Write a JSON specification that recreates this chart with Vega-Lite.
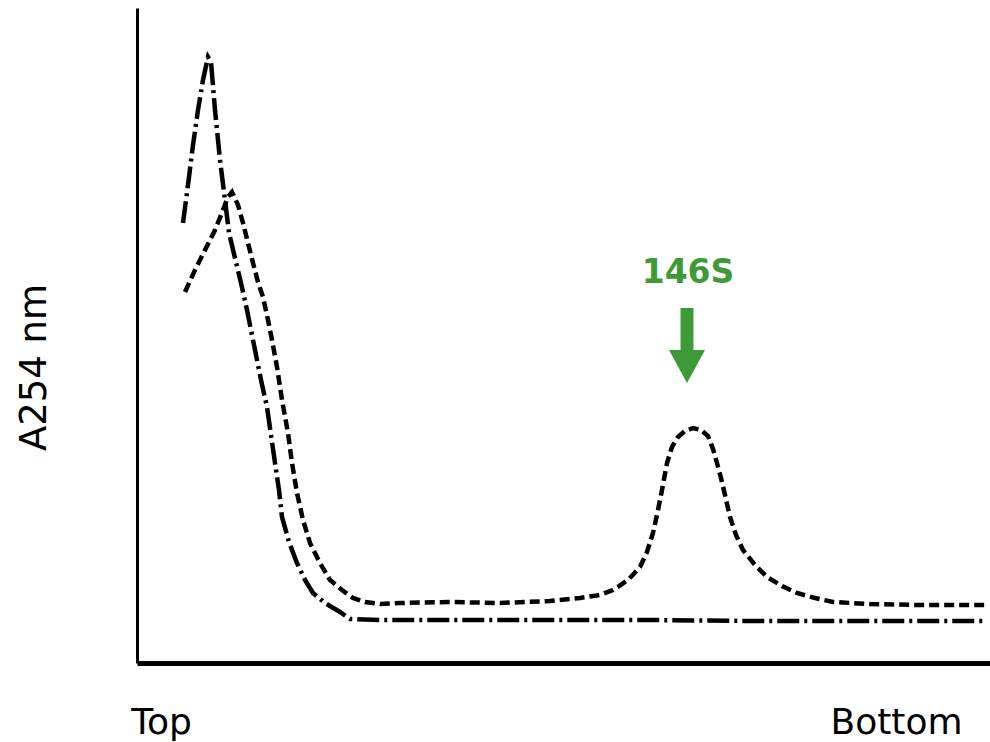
{
  "$schema": "https://vega.github.io/schema/vega-lite/v6.json",
  "width": 853,
  "height": 655,
  "autosize": {"type": "none"},
  "padding": {"left": 137, "top": 8, "right": 0, "bottom": 79},
  "background": "white",
  "config": {"view": {"stroke": null}},
  "datasets": {
    "curves": [
      {"series": "dashdot", "pos": 46, "a": 440},
      {"series": "dashdot", "pos": 51, "a": 478},
      {"series": "dashdot", "pos": 56, "a": 518},
      {"series": "dashdot", "pos": 61, "a": 553},
      {"series": "dashdot", "pos": 66, "a": 583},
      {"series": "dashdot", "pos": 71, "a": 606},
      {"series": "dashdot", "pos": 74, "a": 601},
      {"series": "dashdot", "pos": 78, "a": 553},
      {"series": "dashdot", "pos": 83, "a": 503},
      {"series": "dashdot", "pos": 88, "a": 463},
      {"series": "dashdot", "pos": 92, "a": 430},
      {"series": "dashdot", "pos": 98, "a": 405},
      {"series": "dashdot", "pos": 104, "a": 380},
      {"series": "dashdot", "pos": 110, "a": 353},
      {"series": "dashdot", "pos": 118, "a": 313},
      {"series": "dashdot", "pos": 124, "a": 283},
      {"series": "dashdot", "pos": 130, "a": 256},
      {"series": "dashdot", "pos": 134, "a": 228},
      {"series": "dashdot", "pos": 138, "a": 200},
      {"series": "dashdot", "pos": 142, "a": 173},
      {"series": "dashdot", "pos": 145, "a": 146},
      {"series": "dashdot", "pos": 152, "a": 121},
      {"series": "dashdot", "pos": 160, "a": 100},
      {"series": "dashdot", "pos": 168, "a": 83},
      {"series": "dashdot", "pos": 176, "a": 70},
      {"series": "dashdot", "pos": 188, "a": 60},
      {"series": "dashdot", "pos": 203, "a": 51},
      {"series": "dashdot", "pos": 213, "a": 44},
      {"series": "dashdot", "pos": 243, "a": 43},
      {"series": "dashdot", "pos": 313, "a": 43},
      {"series": "dashdot", "pos": 413, "a": 43},
      {"series": "dashdot", "pos": 513, "a": 43},
      {"series": "dashdot", "pos": 613, "a": 42},
      {"series": "dashdot", "pos": 713, "a": 42},
      {"series": "dashdot", "pos": 848, "a": 42},
      {"series": "dashed", "pos": 48, "a": 371},
      {"series": "dashed", "pos": 58, "a": 393},
      {"series": "dashed", "pos": 68, "a": 413},
      {"series": "dashed", "pos": 78, "a": 433},
      {"series": "dashed", "pos": 86, "a": 453},
      {"series": "dashed", "pos": 91, "a": 466},
      {"series": "dashed", "pos": 95, "a": 471},
      {"series": "dashed", "pos": 101, "a": 458},
      {"series": "dashed", "pos": 106, "a": 440},
      {"series": "dashed", "pos": 111, "a": 420},
      {"series": "dashed", "pos": 116, "a": 400},
      {"series": "dashed", "pos": 121, "a": 381},
      {"series": "dashed", "pos": 126, "a": 366},
      {"series": "dashed", "pos": 131, "a": 343},
      {"series": "dashed", "pos": 135, "a": 323},
      {"series": "dashed", "pos": 140, "a": 296},
      {"series": "dashed", "pos": 145, "a": 263},
      {"series": "dashed", "pos": 151, "a": 230},
      {"series": "dashed", "pos": 155, "a": 200},
      {"series": "dashed", "pos": 160, "a": 170},
      {"series": "dashed", "pos": 166, "a": 143},
      {"series": "dashed", "pos": 173, "a": 120},
      {"series": "dashed", "pos": 183, "a": 100},
      {"series": "dashed", "pos": 193, "a": 83},
      {"series": "dashed", "pos": 205, "a": 73},
      {"series": "dashed", "pos": 216, "a": 65},
      {"series": "dashed", "pos": 228, "a": 61},
      {"series": "dashed", "pos": 243, "a": 59},
      {"series": "dashed", "pos": 263, "a": 60},
      {"series": "dashed", "pos": 313, "a": 61},
      {"series": "dashed", "pos": 363, "a": 60},
      {"series": "dashed", "pos": 413, "a": 62},
      {"series": "dashed", "pos": 443, "a": 65},
      {"series": "dashed", "pos": 463, "a": 68},
      {"series": "dashed", "pos": 476, "a": 73},
      {"series": "dashed", "pos": 491, "a": 83},
      {"series": "dashed", "pos": 503, "a": 96},
      {"series": "dashed", "pos": 510, "a": 111},
      {"series": "dashed", "pos": 516, "a": 130},
      {"series": "dashed", "pos": 521, "a": 153},
      {"series": "dashed", "pos": 525, "a": 173},
      {"series": "dashed", "pos": 530, "a": 200},
      {"series": "dashed", "pos": 535, "a": 216},
      {"series": "dashed", "pos": 541, "a": 226},
      {"series": "dashed", "pos": 548, "a": 232},
      {"series": "dashed", "pos": 556, "a": 235},
      {"series": "dashed", "pos": 564, "a": 233},
      {"series": "dashed", "pos": 571, "a": 227},
      {"series": "dashed", "pos": 576, "a": 214},
      {"series": "dashed", "pos": 580, "a": 200},
      {"series": "dashed", "pos": 584, "a": 185},
      {"series": "dashed", "pos": 588, "a": 168},
      {"series": "dashed", "pos": 593, "a": 146},
      {"series": "dashed", "pos": 599, "a": 128},
      {"series": "dashed", "pos": 606, "a": 113},
      {"series": "dashed", "pos": 618, "a": 98},
      {"series": "dashed", "pos": 630, "a": 86},
      {"series": "dashed", "pos": 645, "a": 77},
      {"series": "dashed", "pos": 660, "a": 70},
      {"series": "dashed", "pos": 678, "a": 65},
      {"series": "dashed", "pos": 696, "a": 61},
      {"series": "dashed", "pos": 733, "a": 59},
      {"series": "dashed", "pos": 783, "a": 58},
      {"series": "dashed", "pos": 848, "a": 58}
    ],
    "annotation": [
      {"label": "146S", "pos": 551, "a": 380, "arrowPos": 550, "arrowA": 317.5}
    ]
  },
  "layer": [
    {
      "data": {"name": "curves"},
      "mark": {"type": "line", "strokeWidth": 4.5, "color": "black", "interpolate": "linear", "strokeCap": "butt"},
      "encoding": {
        "x": {
          "field": "pos", "type": "quantitative",
          "scale": {"domain": [0, 853], "nice": false, "zero": false},
          "axis": {
            "values": [24, 759],
            "labelExpr": "datum.value < 400 ? 'Top' : 'Bottom'",
            "ticks": false,
            "grid": false,
            "title": null,
            "labelPadding": 70,
            "labelBaseline": "alphabetic",
            "labelFlush": false,
            "labelOverlap": false,
            "labelFont": "DejaVu Sans",
            "labelFontSize": 36,
            "labelColor": "black",
            "domainColor": "black",
            "domainWidth": 5
          }
        },
        "y": {
          "field": "a", "type": "quantitative",
          "scale": {"domain": [0, 655], "nice": false, "zero": false},
          "axis": {
            "ticks": false,
            "labels": false,
            "grid": false,
            "domainColor": "black",
            "domainWidth": 3,
            "title": "A254 nm",
            "titleFont": "DejaVu Sans",
            "titleFontSize": 37,
            "titleFontWeight": "normal",
            "titleColor": "black",
            "titleAngle": -90,
            "titleX": -92,
            "titleY": 359,
            "titleAlign": "center",
            "titleBaseline": "alphabetic"
          }
        },
        "detail": {"field": "series", "type": "nominal"},
        "strokeDash": {
          "field": "series", "type": "nominal",
          "scale": {"domain": ["dashdot", "dashed"], "range": [[22, 5, 3, 5], [10, 5]]},
          "legend": null
        }
      }
    },
    {
      "data": {"name": "annotation"},
      "mark": {"type": "text", "font": "DejaVu Sans", "fontSize": 33, "fontWeight": "bold", "color": "#3d9a36", "align": "center", "baseline": "alphabetic"},
      "encoding": {
        "x": {"field": "pos", "type": "quantitative"},
        "y": {"field": "a", "type": "quantitative"},
        "text": {"field": "label"}
      }
    },
    {
      "data": {"name": "annotation"},
      "mark": {"type": "point", "shape": "M-0.173,-1L0.173,-1L0.173,0.12L0.48,0.12L0,1L-0.48,0.12L-0.173,0.12Z", "size": 5625, "filled": true, "color": "#3d9a36", "opacity": 1, "strokeWidth": 0},
      "encoding": {
        "x": {"field": "arrowPos", "type": "quantitative"},
        "y": {"field": "arrowA", "type": "quantitative"}
      }
    }
  ]
}
